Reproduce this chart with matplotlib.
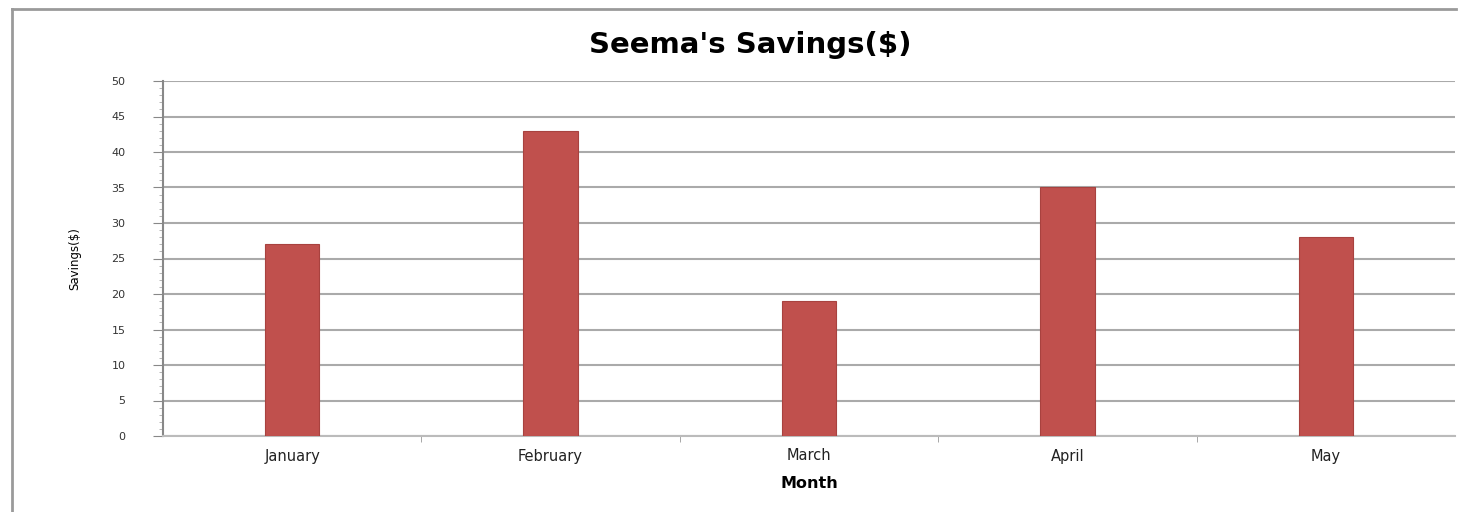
import matplotlib.pyplot as plt
from matplotlib.ticker import MultipleLocator
from matplotlib.lines import Line2D

months = ["January", "February", "March", "April", "May"]
savings = [27, 43, 19, 35, 28]
y_ticks = [0, 5, 10, 15, 20, 25, 30, 35, 40, 45, 50]

fig = plt.figure(figsize=(14.8, 5.12), dpi=100)
ax = fig.add_axes([163 / 1480, 1 - 436 / 512, (1455 - 163) / 1480, (436 - 81) / 512])

# outer chart border (top and left visible)
fig.add_artist(Line2D([12 / 1480, 1456 / 1480], [1 - 9 / 512, 1 - 9 / 512],
                      transform=fig.transFigure, color="#9a9a9a", lw=2))
fig.add_artist(Line2D([12 / 1480, 12 / 1480], [0, 1 - 9 / 512],
                      transform=fig.transFigure, color="#9a9a9a", lw=2))

x = range(len(months))
ax.bar(x, savings, width=0.21, color="#c0504d", edgecolor="#a8423f", lw=0.8, zorder=3)

ax.set_xlim(-0.5, len(months) - 0.5)
ax.set_ylim(0, 50)
ax.set_yticks(y_ticks)
ax.set_yticklabels([str(v) for v in y_ticks], fontsize=8, color="#333333")
ax.yaxis.set_minor_locator(MultipleLocator(1))
ax.set_xticks(list(x))
ax.set_xticklabels(months, fontsize=10.5, color="#222222")
ax.set_xticks([i + 0.5 for i in range(len(months) - 1)], minor=True)
ax.tick_params(axis="x", which="major", length=0, pad=9)
ax.tick_params(axis="x", which="minor", length=4, color="#999999")
ax.tick_params(axis="y", which="major", length=7, color="#888888", pad=20)
ax.tick_params(axis="y", which="minor", length=3, color="#aaaaaa")

ax.grid(axis="y", color="#aaaaaa", lw=1.5, zorder=0)
for s in ["top", "right"]:
    ax.spines[s].set_visible(False)
ax.spines["left"].set_color("#888888")
ax.spines["left"].set_linewidth(1.5)
ax.spines["bottom"].set_color("#bbbbbb")
ax.spines["bottom"].set_linewidth(1.5)

ax.set_xlabel("Month", fontsize=11.5, fontweight="bold", labelpad=9)
ax.set_ylabel("Savings($)", fontsize=8.5, labelpad=22)
fig.text(750 / 1480, 1 - 45 / 512, "Seema's Savings($)", fontsize=21,
         fontweight="bold", ha="center", va="center")

plt.savefig("out.png")
